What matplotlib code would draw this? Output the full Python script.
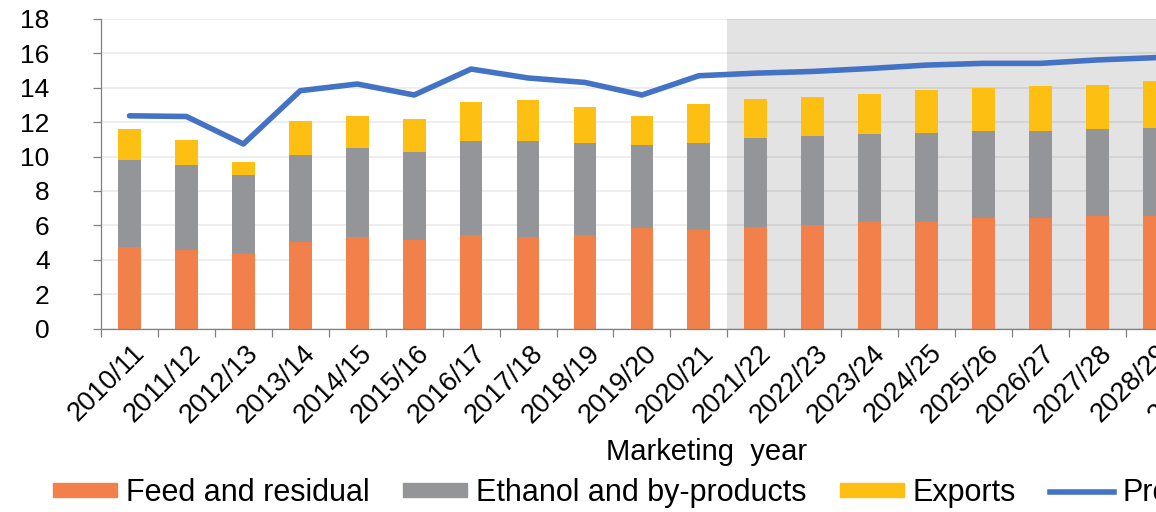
import matplotlib.pyplot as plt
from matplotlib.patches import Patch
from matplotlib.lines import Line2D
from matplotlib.transforms import ScaledTranslation

plt.rcParams['font.family'] = ['Liberation Sans', 'DejaVu Sans']

years = ['2010/11', '2011/12', '2012/13', '2013/14', '2014/15', '2015/16', '2016/17',
         '2017/18', '2018/19', '2019/20', '2020/21', '2021/22', '2022/23', '2023/24',
         '2024/25', '2025/26', '2026/27', '2027/28', '2028/29', '2029/30', '2030/31']

feed = [4.75, 4.56, 4.32, 5.04, 5.33, 5.14, 5.43, 5.33, 5.43, 5.82, 5.72,
        5.92, 6.03, 6.21, 6.21, 6.42, 6.42, 6.54, 6.54, 6.6, 6.65]
ethanol = [5.04, 4.94, 4.58, 5.05, 5.16, 5.14, 5.45, 5.55, 5.35, 4.87, 5.06,
           5.17, 5.16, 5.08, 5.17, 5.08, 5.08, 5.06, 5.14, 5.15, 5.15]
exports = [1.81, 1.48, 0.80, 1.99, 1.88, 1.90, 2.31, 2.41, 2.08, 1.68, 2.27,
           2.27, 2.29, 2.36, 2.51, 2.48, 2.58, 2.56, 2.69, 2.75, 2.8]
production = [12.37, 12.33, 10.73, 13.83, 14.22, 13.58, 15.09, 14.57, 14.31, 13.58, 14.70,
              14.85, 14.95, 15.12, 15.32, 15.42, 15.42, 15.62, 15.75, 15.9, 16.0]

proj_start = 11  # 2021/22 onward is shaded

c_feed = '#F2804A'
c_eth = '#939598'
c_exp = '#FDBF11'
c_prod = '#4472C4'

fig = plt.figure(figsize=(11.56, 5.12), dpi=100)
# axes runs past the right edge of the picture, like the reference crop
ax = fig.add_axes([101 / 1156, 1 - 328.5 / 512, 1195.7 / 1156, 309.5 / 512])

x = list(range(len(years)))
bottom2 = [a + b for a, b in zip(feed, ethanol)]

ax.axvspan(proj_start - 0.5, len(years) - 0.5, color='#E3E3E3', zorder=0, lw=0)
ax.set_axisbelow(True)
ax.yaxis.grid(True, color='black', alpha=0.08, lw=1.2, zorder=1)

w = 0.4
ax.bar(x, feed, w, color=c_feed, zorder=2)
ax.bar(x, ethanol, w, bottom=feed, color=c_eth, zorder=2)
ax.bar(x, exports, w, bottom=bottom2, color=c_exp, zorder=2)
ax.plot(x, production, color=c_prod, lw=4, solid_capstyle='round',
        solid_joinstyle='round', zorder=3)

ax.set_xlim(-0.5, len(years) - 0.5)
ax.set_ylim(0, 18)
ax.set_yticks(range(0, 19, 2))
ax.set_xticks([i - 0.5 for i in range(len(years) + 1)], minor=False)
ax.set_xticklabels([])
ax.set_xticks(x, minor=True)
ax.set_xticklabels(years, minor=True, rotation=45, ha='right', va='center',
                   rotation_mode='anchor', fontsize=19.5)
ax.tick_params(axis='x', which='major', length=6, color='#808080', width=0.9)
ax.tick_params(axis='x', which='minor', length=0, pad=15)
ax.tick_params(axis='y', length=6, color='#808080', width=0.9, labelsize=19, pad=31)

off = ScaledTranslation(0.11, 0, fig.dpi_scale_trans)
for lab in ax.get_xticklabels(minor=True):
    lab.set_transform(lab.get_transform() + off)

for s in ['top', 'right']:
    ax.spines[s].set_visible(False)
for s in ['left', 'bottom']:
    ax.spines[s].set_color('#808080')
    ax.spines[s].set_linewidth(0.9)

fig.text(707 / 1156, 1 - 452 / 512, 'Marketing  year', ha='center', va='center', fontsize=21)

handles = [Patch(color=c_feed), Patch(color=c_eth), Patch(color=c_exp),
           Line2D([], [], color=c_prod, lw=4)]
labels = ['Feed and residual', 'Ethanol and by-products', 'Exports', 'Production']
fig.legend(handles, labels, ncol=4, loc='center left',
           bbox_to_anchor=(53 / 1156, 1 - 493 / 512), frameon=False, fontsize=22,
           handlelength=2.1, handleheight=0.3, handletextpad=0.28,
           columnspacing=1.1, borderpad=0, borderaxespad=0)

fig.savefig('out.png', dpi=100)
